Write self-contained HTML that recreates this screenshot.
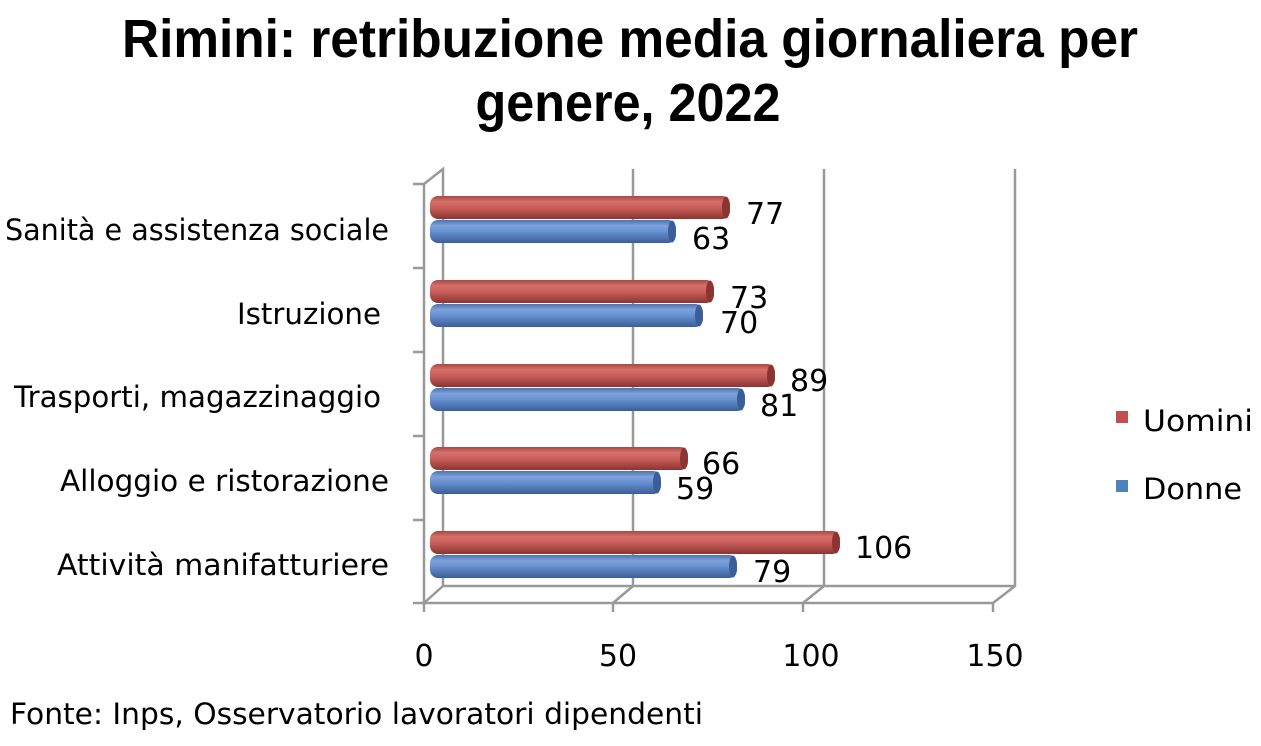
<!DOCTYPE html>
<html><head><meta charset="utf-8"><style>
html,body{margin:0;padding:0;background:#fff;}
svg{display:block;font-family:"DejaVu Sans","Liberation Sans",sans-serif;}
</style></head><body>
<svg width="1261" height="746" viewBox="0 0 1261 746" xmlns="http://www.w3.org/2000/svg">
<defs>
<linearGradient id="r" x1="0" y1="0" x2="0" y2="1">
<stop offset="0" stop-color="#a84844"/><stop offset="0.25" stop-color="#d6706b"/><stop offset="0.5" stop-color="#c95f5a"/><stop offset="1" stop-color="#8c3431"/></linearGradient>
<linearGradient id="b" x1="0" y1="0" x2="0" y2="1">
<stop offset="0" stop-color="#4a71b0"/><stop offset="0.25" stop-color="#7ea3dc"/><stop offset="0.5" stop-color="#6790d0"/><stop offset="1" stop-color="#3a5e98"/></linearGradient>
</defs>
<g font-family="'Liberation Sans Narrow','Liberation Sans',sans-serif" font-weight="bold" font-size="54" text-anchor="middle" fill="#000">
<text x="630" y="57" textLength="1016" lengthAdjust="spacingAndGlyphs">Rimini: retribuzione media giornaliera per</text>
<text x="628" y="121" textLength="305" lengthAdjust="spacingAndGlyphs">genere, 2022</text>
</g>
<g stroke="#999" stroke-width="2.5" fill="none">
<polyline points="424,603 424,184 443,169 443,586"/>
<polyline points="424,603 993,603 1015,586 1015,169"/>
<polyline points="424,603 443,586 1015,586"/>
<polyline points="613,603 633,586 633,169"/>
<polyline points="803,603 824,586 824,169"/>
<line x1="413" y1="184" x2="424" y2="184"/><line x1="413" y1="268" x2="424" y2="268"/>
<line x1="413" y1="352" x2="424" y2="352"/><line x1="413" y1="436" x2="424" y2="436"/>
<line x1="413" y1="520" x2="424" y2="520"/><line x1="413" y1="603" x2="424" y2="603"/>
<line x1="424" y1="603" x2="424" y2="612"/><line x1="613" y1="603" x2="613" y2="612"/>
<line x1="803" y1="603" x2="803" y2="612"/><line x1="993" y1="603" x2="993" y2="612"/>
</g>
<g>
<rect x="430" y="196" width="300" height="23" rx="8" fill="url(#r)"/><ellipse cx="726" cy="207.5" rx="4" ry="11" fill="#8c3431"/>
<rect x="430" y="220" width="246" height="23" rx="8" fill="url(#b)"/><ellipse cx="672" cy="231.5" rx="4" ry="11" fill="#3a5e98"/>
<rect x="430" y="280" width="284" height="23" rx="8" fill="url(#r)"/><ellipse cx="710" cy="291.5" rx="4" ry="11" fill="#8c3431"/>
<rect x="430" y="304" width="273" height="23" rx="8" fill="url(#b)"/><ellipse cx="699" cy="315.5" rx="4" ry="11" fill="#3a5e98"/>
<rect x="430" y="364" width="345" height="23" rx="8" fill="url(#r)"/><ellipse cx="771" cy="375.5" rx="4" ry="11" fill="#8c3431"/>
<rect x="430" y="388" width="315" height="23" rx="8" fill="url(#b)"/><ellipse cx="741" cy="399.5" rx="4" ry="11" fill="#3a5e98"/>
<rect x="430" y="447" width="258" height="23" rx="8" fill="url(#r)"/><ellipse cx="684" cy="458.5" rx="4" ry="11" fill="#8c3431"/>
<rect x="430" y="471" width="231" height="23" rx="8" fill="url(#b)"/><ellipse cx="657" cy="482.5" rx="4" ry="11" fill="#3a5e98"/>
<rect x="430" y="531" width="410" height="23" rx="8" fill="url(#r)"/><ellipse cx="836" cy="542.5" rx="4" ry="11" fill="#8c3431"/>
<rect x="430" y="555" width="307" height="23" rx="8" fill="url(#b)"/><ellipse cx="733" cy="566.5" rx="4" ry="11" fill="#3a5e98"/>
</g>
<g font-size="30" fill="#000">
<text x="746" y="224">77</text><text x="692" y="249">63</text>
<text x="730" y="308">73</text><text x="720" y="333">70</text>
<text x="790" y="391">89</text><text x="760" y="416">81</text>
<text x="702" y="474">66</text><text x="676" y="499">59</text>
<text x="855" y="558">106</text><text x="753" y="582">79</text>
</g>
<g font-size="29" fill="#000">
<text x="5" y="240" textLength="384" lengthAdjust="spacingAndGlyphs">Sanità e assistenza sociale</text>
<text x="237" y="324" textLength="144" lengthAdjust="spacingAndGlyphs">Istruzione</text>
<text x="14" y="407" textLength="367" lengthAdjust="spacingAndGlyphs">Trasporti, magazzinaggio</text>
<text x="60" y="491" textLength="329" lengthAdjust="spacingAndGlyphs">Alloggio e ristorazione</text>
<text x="57" y="575" textLength="332" lengthAdjust="spacingAndGlyphs">Attività manifatturiere</text>
</g>
<g font-size="30" fill="#000" text-anchor="middle">
<text x="424" y="666">0</text><text x="618" y="666">50</text>
<text x="811" y="666">100</text><text x="995" y="666">150</text>
</g>
<rect x="1116" y="411" width="12" height="12" fill="#c0504d"/>
<text x="1143" y="431" font-size="29" textLength="110" lengthAdjust="spacingAndGlyphs">Uomini</text>
<rect x="1116" y="480" width="12" height="12" fill="#4f81bd"/>
<text x="1143" y="499" font-size="29" textLength="99" lengthAdjust="spacingAndGlyphs">Donne</text>
<text x="10" y="724" font-size="29" textLength="693" lengthAdjust="spacingAndGlyphs">Fonte: Inps, Osservatorio lavoratori dipendenti</text>
</svg>
</body></html>
